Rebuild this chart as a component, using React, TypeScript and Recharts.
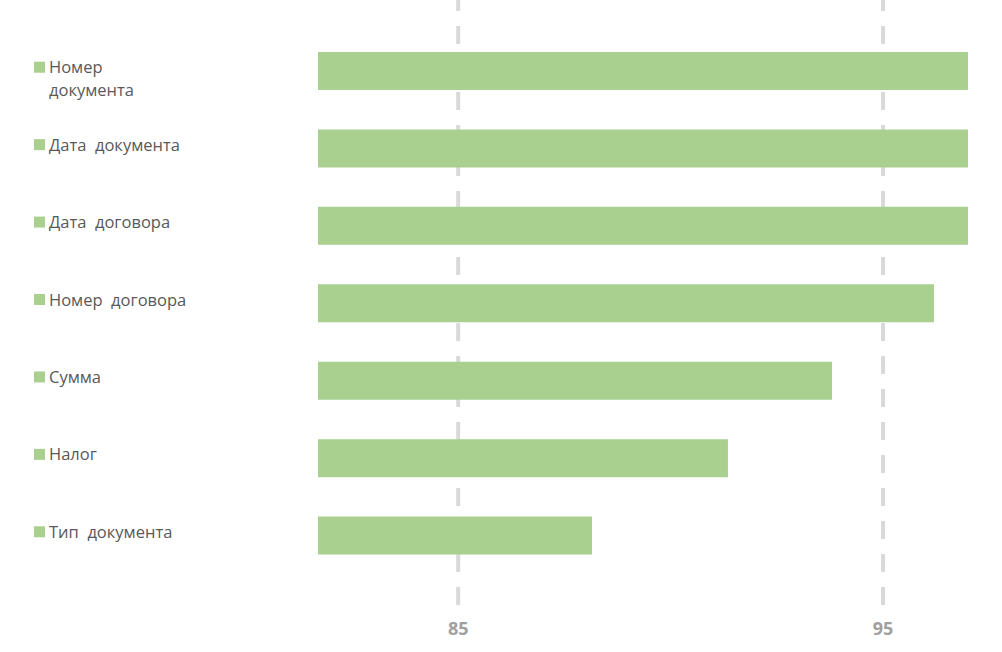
import { Bar, BarChart, CartesianGrid, XAxis, YAxis } from "recharts";

const categories = [
  "Номер\nдокумента",
  "Дата  документа",
  "Дата  договора",
  "Номер  договора",
  "Сумма",
  "Налог",
  "Тип  документа",
];
const values = [97, 97, 97, 96.2, 93.8, 91.35, 88.15];
const xTicks = [85, 95];

const data = categories.map((name, i) => ({ name, value: values[i] }));

const GREEN = "#a9d08e";

const LegendTick = ({ y, payload }: any) => {
  const lines = String(payload.value).split("\n");
  return (
    <g>
      <rect x={34} y={y - 9} width={11} height={11} fill={GREEN} />
      {lines.map((line, i) => (
        <text
          key={i}
          x={49}
          y={y - 4 + i * 23}
          fill="#595959"
          fontSize={16.5}
          fontFamily="Open Sans"
          dominantBaseline="central"
          style={{ whiteSpace: "pre" }}
        >
          {line}
        </text>
      ))}
    </g>
  );
};

const App = () => {
  return (
    <div style={{ position: "absolute", left: 0, top: 0 }}>
      <BarChart
        width={1002}
        height={652}
        data={data}
        layout="vertical"
        margin={{ top: 0, right: 34, bottom: 0, left: 0 }}
        barSize={38}
      >
        <CartesianGrid
          horizontal={false}
          syncWithTicks
          stroke="#d9d9d9"
          strokeWidth={4}
          strokeDasharray="18 15"
          strokeDashoffset={7}
        />
        <XAxis
          type="number"
          domain={[81.7, 97]}
          ticks={xTicks}
          axisLine={false}
          tickLine={false}
          height={46}
          tickMargin={10}
          tick={{ fill: "#a0a0a0", fontSize: 18, fontWeight: "bold", fontFamily: "Open Sans" }}
        />
        <YAxis
          type="category"
          dataKey="name"
          width={318}
          axisLine={false}
          tickLine={false}
          padding={{ top: 32, bottom: 32 }}
          tick={<LegendTick />}
          interval={0}
        />
        <Bar dataKey="value" fill={GREEN} isAnimationActive={false} />
      </BarChart>
    </div>
  );
};

export default App;
